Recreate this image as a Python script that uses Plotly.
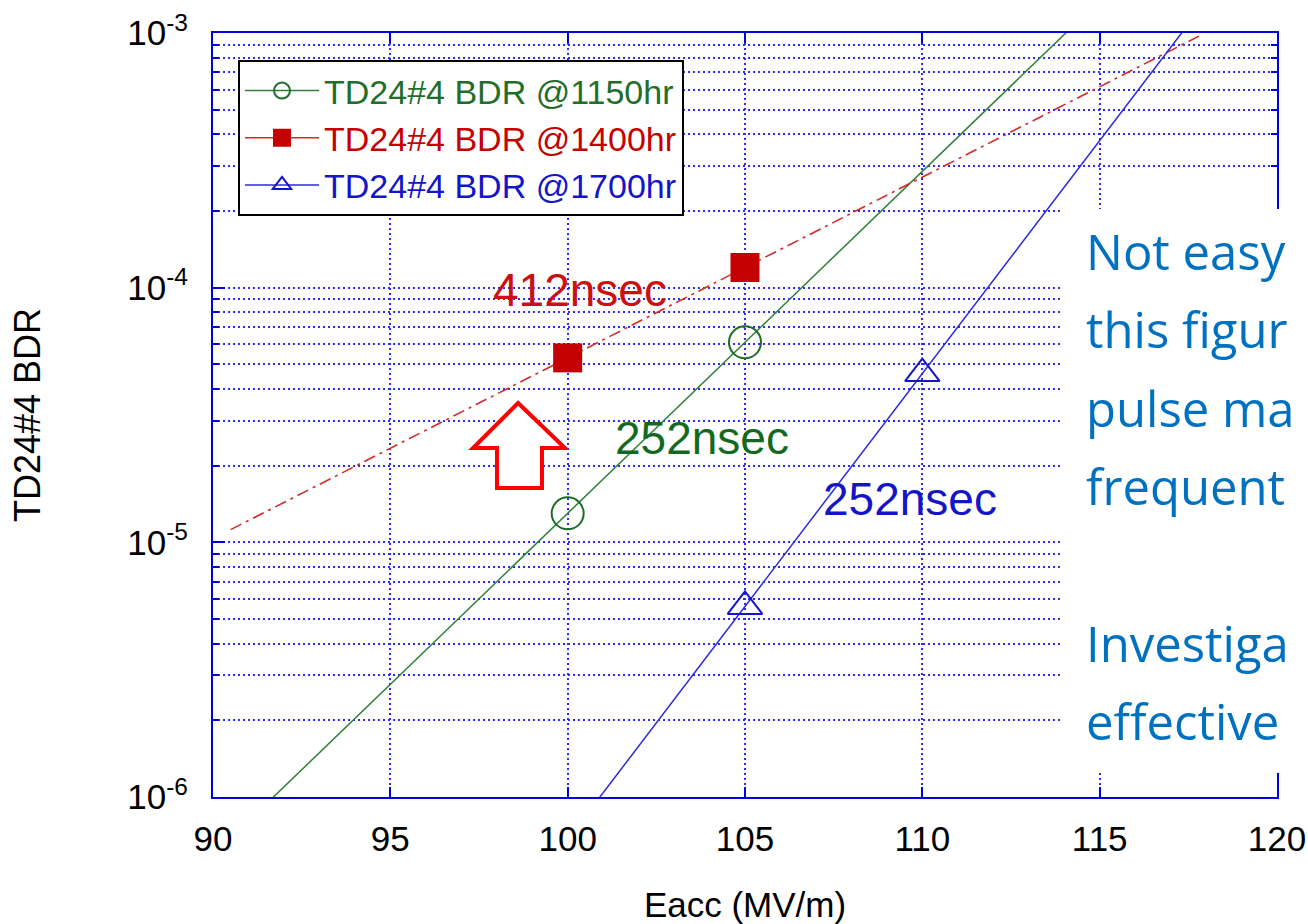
import numpy as np
import plotly.graph_objects as go

# ---------------- data ----------------
green_x = [100, 105]
green_y = [1.3e-5, 6.1e-5]
red_x = [100, 105]
red_y = [5.3e-5, 1.2e-4]
blue_x = [105, 110]
blue_y = [5.6e-6, 4.6e-5]

green_fit_range = [90, 120]
red_fit_range = [90.5, 117.8]
blue_fit_range = [90, 120]

names = ["TD24#4 BDR @1150hr", "TD24#4 BDR @1400hr", "TD24#4 BDR @1700hr"]
x_ticks = [90, 95, 100, 105, 110, 115, 120]
y_ticks = [1e-6, 1e-5, 1e-4, 1e-3]
y_ticktext = ["10<sup>-6</sup>", "10<sup>-5</sup>", "10<sup>-4</sup>", "10<sup>-3</sup>"]
y_minor = [m * d for d in [1e-6, 1e-5, 1e-4] for m in range(2, 10)]

side_text = ["Not easy", "this figur", "pulse ma", "frequent", "", "Investiga", "effective"]

GREEN = "#1f6e2a"
GREEN_LINE = "#2f7f3a"
RED = "#c40000"
RED_LINE = "#d42a2a"
BLUE = "#1414c8"
BLUE_LINE = "#2a2ad8"
AXBLUE = "#0000e6"
GRIDBLUE = "#2b2bff"
FONT = "Liberation Sans, Arial, sans-serif"


def fit_line(xs, ys, rng):
    p = np.polyfit(xs, np.log10(ys), 1)
    xx = np.linspace(rng[0], rng[1], 200)
    return xx, 10 ** np.polyval(p, xx)


fig = go.Figure()

# fit lines
gx, gy = fit_line(green_x, green_y, green_fit_range)
rx, ry = fit_line(red_x, red_y, red_fit_range)
bx, by = fit_line(blue_x, blue_y, blue_fit_range)
fig.add_trace(go.Scatter(x=gx, y=gy, mode="lines", line=dict(color=GREEN_LINE, width=1.5),
                         showlegend=False, hoverinfo="skip"))
fig.add_trace(go.Scatter(x=rx, y=ry, mode="lines",
                         line=dict(color=RED_LINE, width=1.6, dash="12px,5px,3px,5px"),
                         showlegend=False, hoverinfo="skip"))
fig.add_trace(go.Scatter(x=bx, y=by, mode="lines", line=dict(color=BLUE_LINE, width=1.5),
                         showlegend=False, hoverinfo="skip"))

# data markers
fig.add_trace(go.Scatter(x=green_x, y=green_y, mode="markers", showlegend=False,
                         marker=dict(symbol="circle-open", size=32, color=GREEN, line=dict(width=2, color=GREEN))))
fig.add_trace(go.Scatter(x=red_x, y=red_y, mode="markers", showlegend=False,
                         marker=dict(symbol="square", size=29, color=RED, line=dict(width=0))))
fig.add_trace(go.Scatter(x=blue_x, y=blue_y, mode="markers", showlegend=False,
                         marker=dict(symbol="triangle-up-open", size=30, color=BLUE, line=dict(width=2, color=BLUE))))

# legend entries
leg = [
    (names[0], GREEN, GREEN_LINE, "circle-open"),
    (names[1], RED, RED_LINE, "square"),
    (names[2], BLUE, BLUE_LINE, "triangle-up-open"),
]
for nm, c, lc, sym in leg:
    fig.add_trace(go.Scatter(
        x=[None], y=[None], mode="lines+markers",
        name=f'<span style="color:{c}">{nm}</span>',
        line=dict(color=lc, width=1.5),
        marker=dict(symbol=sym, size=22, color=c, line=dict(width=2, color=c)),
    ))


def px(x):
    return (x - 213) / 1064.0


def py(y):
    return (797 - y) / 764.0


shapes = []
# white text box covering the right side
shapes.append(dict(type="rect", xref="paper", yref="paper",
                   x0=px(1063), x1=px(1307), y0=py(773), y1=py(209),
                   fillcolor="white", line=dict(width=0), layer="above"))
# hollow red arrow
pts = [(518, 403), (565, 448), (542, 448), (542, 488), (497, 488), (497, 448), (473, 448)]
path = "M " + " L ".join(f"{px(a):.4f},{py(b):.4f}" for a, b in pts) + " Z"
shapes.append(dict(type="path", xref="paper", yref="paper", path=path,
                   fillcolor="white", line=dict(color="#ff0000", width=4), layer="above"))

annotations = [
    dict(x=100.35, y=-4.008, xref="x", yref="y", text="412nsec", showarrow=False,
         font=dict(family=FONT, size=46, color="#cc1010")),
    dict(x=103.8, y=-4.59, xref="x", yref="y", text="252nsec", showarrow=False,
         font=dict(family=FONT, size=46, color="#136a1f")),
    dict(x=109.65, y=-4.83, xref="x", yref="y", text="252nsec", showarrow=False,
         font=dict(family=FONT, size=46, color="#1515c8")),
]
for i, t in enumerate(side_text):
    if not t:
        continue
    annotations.append(dict(x=px(1084), y=py(251 + i * 78.3), xref="paper", yref="paper",
                            xanchor="left", yanchor="middle", text=t, showarrow=False,
                            font=dict(family="Open Sans, Noto Sans, sans-serif", size=49, color="#0070c0")))

fig.update_layout(
    width=1308, height=924,
    margin=dict(l=213, r=31, t=33, b=127, autoexpand=False),
    paper_bgcolor="white", plot_bgcolor="white",
    font=dict(family=FONT, size=34, color="black"),
    showlegend=True,
    legend=dict(x=px(238), y=py(60), xanchor="left", yanchor="top",
                bgcolor="white", bordercolor="black", borderwidth=2,
                font=dict(family=FONT, size=34), itemwidth=74,
                tracegroupgap=0),
    shapes=shapes,
    annotations=annotations,
)

fig.update_xaxes(
    range=[90, 120], tickvals=x_ticks, ticks="inside", ticklen=10, tickwidth=2, tickcolor=AXBLUE,
    showline=True, linecolor=AXBLUE, linewidth=2, mirror="ticks", automargin=False,
    showgrid=True, gridcolor=GRIDBLUE, gridwidth=1.5, griddash="2px,3px", zeroline=False,
    tickfont=dict(family=FONT, size=35, color="black"), ticklabelstandoff=10,
    title=dict(text="Eacc (MV/m)", font=dict(family=FONT, size=35, color="black"), standoff=40),
)
fig.update_yaxes(
    type="log", range=[-6, -3], tickvals=y_ticks, ticktext=y_ticktext,
    ticks="inside", ticklen=12, tickwidth=2, tickcolor=AXBLUE,
    showline=True, linecolor=AXBLUE, linewidth=2, mirror="ticks", automargin=False,
    showgrid=True, gridcolor=GRIDBLUE, gridwidth=1.5, griddash="2px,3px", zeroline=False,
    minor=dict(tickvals=y_minor, ticks="inside", ticklen=6, tickwidth=2, tickcolor=AXBLUE,
               showgrid=True, gridcolor=GRIDBLUE, gridwidth=1.5, griddash="2px,3px"),
    tickfont=dict(family=FONT, size=35, color="black"), ticklabelstandoff=16,
    title=dict(text="TD24#4 BDR", font=dict(family=FONT, size=36, color="black"), standoff=76),
)

fig.write_html("out.html")
